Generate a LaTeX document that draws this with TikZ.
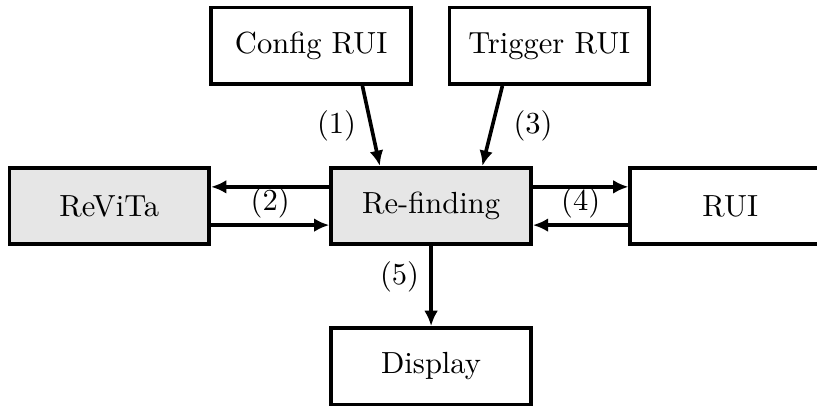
\documentclass[tikz,border=0pt]{standalone}
\usepackage{xcolor}
\definecolor{procGray}{HTML}{E6E6E6}
\usepackage{tikz}
\usetikzlibrary{arrows.meta, positioning}

\begin{document}
\begin{tikzpicture}[>={Latex[length=5pt, width=4.5pt]}, very thick,
    block/.style={draw=black, very thick, minimum width=2.3cm, minimum height=0.88cm, align=center},
    lbl/.style={inner sep=1.6pt}]
        % Frame of the picture
        \clip (-4.96,-2.31) rectangle (4.44,2.37);

        % Nodes
        \node[block, fill=procGray] (refind) at (0,0) {Re-finding};
        \node[block, fill=procGray, left=1.36cm of refind] (revita) {ReViTa};
        \node[block, right=1.10cm of refind] (rui) {RUI};
        \node[block, above=0.92cm of refind, xshift=-1.38cm] (config) {Config RUI};
        \node[block, above=0.92cm of refind, xshift=1.36cm] (trigger) {Trigger RUI};
        \node[block, below=0.92cm of refind] (display) {Display};

        % Paths
        \draw[->] ([xshift=0.59cm]config.south) -- ([xshift=-0.59cm]refind.north) node[midway, left=1pt] {(1)};
        \draw[->] ([xshift=-0.54cm]trigger.south) -- ([xshift=0.59cm]refind.north) node[midway, right=3pt] {(3)};
        \draw[->] ([yshift=0.22cm]refind.west) -- ([yshift=0.22cm]revita.east);
        \draw[->] ([yshift=-0.22cm]revita.east) -- ([yshift=-0.22cm]refind.west) node[midway, above, lbl] {(2)};
        \draw[->] ([yshift=0.22cm]refind.east) -- ([yshift=0.22cm]rui.west);
        \draw[->] ([yshift=-0.22cm]rui.west) -- ([yshift=-0.22cm]refind.east) node[midway, above, lbl] {(4)};
        \draw[->] (refind) -- (display) node[pos=0.39, left] {(5)};
    \end{tikzpicture}
\end{document}
